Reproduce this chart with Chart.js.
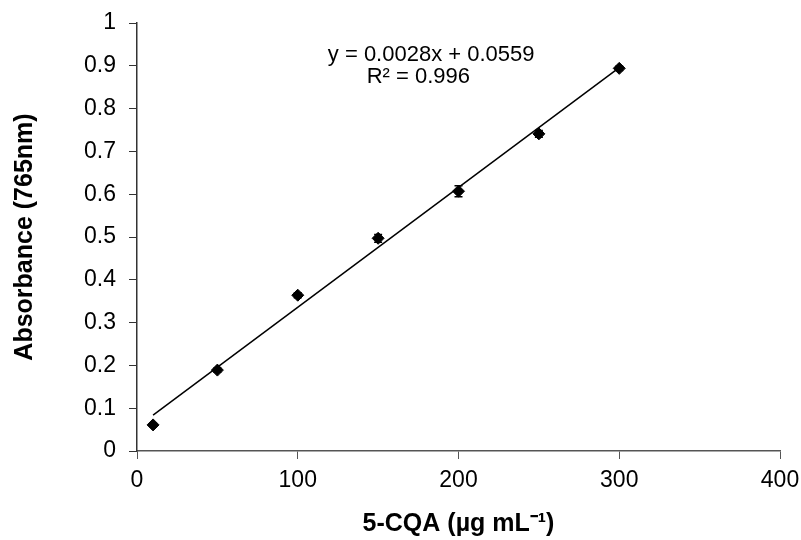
<!DOCTYPE html>
<html>
<head>
<meta charset="utf-8">
<script src="https://cdn.jsdelivr.net/npm/chart.js@4"></script>
<style>
  html, body { margin: 0; padding: 0; background: #fff; }
  #wrap { width: 801px; height: 540px; }
</style>
</head>
<body>
<div id="wrap"><canvas id="calChart" width="801" height="540"></canvas></div>
<script>
// standard curve data
const concentrations = [10, 50, 100, 150, 200, 250, 300];
const absorbance = [0.061, 0.189, 0.364, 0.497, 0.607, 0.741, 0.894];
const errors = [0.004, 0.005, 0.006, 0.009, 0.013, 0.008, 0.005];

// linear trendline end points
const trendX = [10, 300];
const trendY = [0.0839, 0.8959];

const xTicks = [0, 100, 200, 300, 400];
const yTicks = [0, 0.1, 0.2, 0.3, 0.4, 0.5, 0.6, 0.7, 0.8, 0.9, 1];
const yTickLabels = ['0', '0.1', '0.2', '0.3', '0.4', '0.5', '0.6', '0.7', '0.8', '0.9', '1'];
const equationLines = ['y = 0.0028x + 0.0559', 'R² = 0.996'];

const fontFamily = "'Liberation Sans', Arial, sans-serif";

// draws the vertical error bars with caps
const errorBarPlugin = {
  id: 'errorBars',
  afterDatasetsDraw(chart) {
    const ctx = chart.ctx;
    const xs = chart.scales.x, ys = chart.scales.y;
    ctx.save();
    ctx.strokeStyle = '#000';
    ctx.lineWidth = 1.5;
    concentrations.forEach((c, i) => {
      const px = xs.getPixelForValue(c);
      const top = ys.getPixelForValue(absorbance[i] + errors[i]);
      const bot = ys.getPixelForValue(absorbance[i] - errors[i]);
      ctx.beginPath();
      ctx.moveTo(px, top); ctx.lineTo(px, bot);
      ctx.moveTo(px - 4, top); ctx.lineTo(px + 4, top);
      ctx.moveTo(px - 4, bot); ctx.lineTo(px + 4, bot);
      ctx.stroke();
    });
    ctx.restore();
  }
};

// trendline equation text
const equationPlugin = {
  id: 'equation',
  afterDraw(chart) {
    const ctx = chart.ctx;
    const xs = chart.scales.x, ys = chart.scales.y;
    ctx.save();
    ctx.fillStyle = '#000';
    ctx.font = '22px ' + fontFamily;
    ctx.textAlign = 'center';
    ctx.textBaseline = 'middle';
    ctx.fillText(equationLines[0], xs.getPixelForValue(183), ys.getPixelForValue(0.925));
    ctx.fillText(equationLines[1], xs.getPixelForValue(175), ys.getPixelForValue(0.874));
    ctx.restore();
  }
};

const ctx = document.getElementById('calChart').getContext('2d');
new Chart(ctx, {
  type: 'scatter',
  data: {
    datasets: [
      {
        label: 'Absorbance',
        data: concentrations.map((c, i) => ({ x: c, y: absorbance[i] })),
        pointStyle: 'rectRot',
        pointRadius: 6,
        backgroundColor: '#000',
        borderColor: '#000',
        showLine: false,
        order: 1
      },
      {
        label: 'Linear',
        data: trendX.map((x, i) => ({ x: x, y: trendY[i] })),
        showLine: true,
        pointRadius: 0,
        borderColor: '#000',
        borderWidth: 1.5,
        fill: false,
        order: 2
      }
    ]
  },
  options: {
    responsive: false,
    animation: false,
    layout: { padding: { top: 23, right: 21, left: 0, bottom: 0 } },
    plugins: {
      legend: { display: false },
      tooltip: { enabled: false }
    },
    scales: {
      x: {
        type: 'linear',
        min: 0,
        max: 400,
        afterBuildTicks: s => { s.ticks = xTicks.map(v => ({ value: v })); },
        afterFit: s => { s.height = 89; s.paddingLeft = 0; s.paddingRight = 0; },
        grid: { drawOnChartArea: false, drawTicks: true, tickLength: 8, color: '#555' },
        border: { display: true, color: '#555', width: 1.5 },
        ticks: { color: '#000', padding: 8, font: { family: fontFamily, size: 23 } },
        title: {
          display: true,
          text: '5-CQA (µg mL⁻¹)',
          color: '#000',
          padding: { top: 0, bottom: 1 },
          font: { family: fontFamily, size: 25, weight: 'bold' }
        }
      },
      y: {
        type: 'linear',
        min: 0,
        max: 1,
        afterBuildTicks: s => { s.ticks = yTicks.map(v => ({ value: v })); },
        afterFit: s => { s.width = 137; s.paddingTop = 0; s.paddingBottom = 0; },
        grid: { drawOnChartArea: false, drawTicks: true, tickLength: 8, color: '#333' },
        border: { display: true, color: '#333', width: 1.5 },
        ticks: {
          color: '#000',
          padding: 13,
          font: { family: fontFamily, size: 23 },
          callback: (v, i) => yTickLabels[i]
        },
        title: {
          display: true,
          text: 'Absorbance (765nm)',
          color: '#000',
          padding: { top: 10, bottom: 0 },
          font: { family: fontFamily, size: 25, weight: 'bold' }
        }
      }
    }
  },
  plugins: [errorBarPlugin, equationPlugin]
});
</script>
</body>
</html>
